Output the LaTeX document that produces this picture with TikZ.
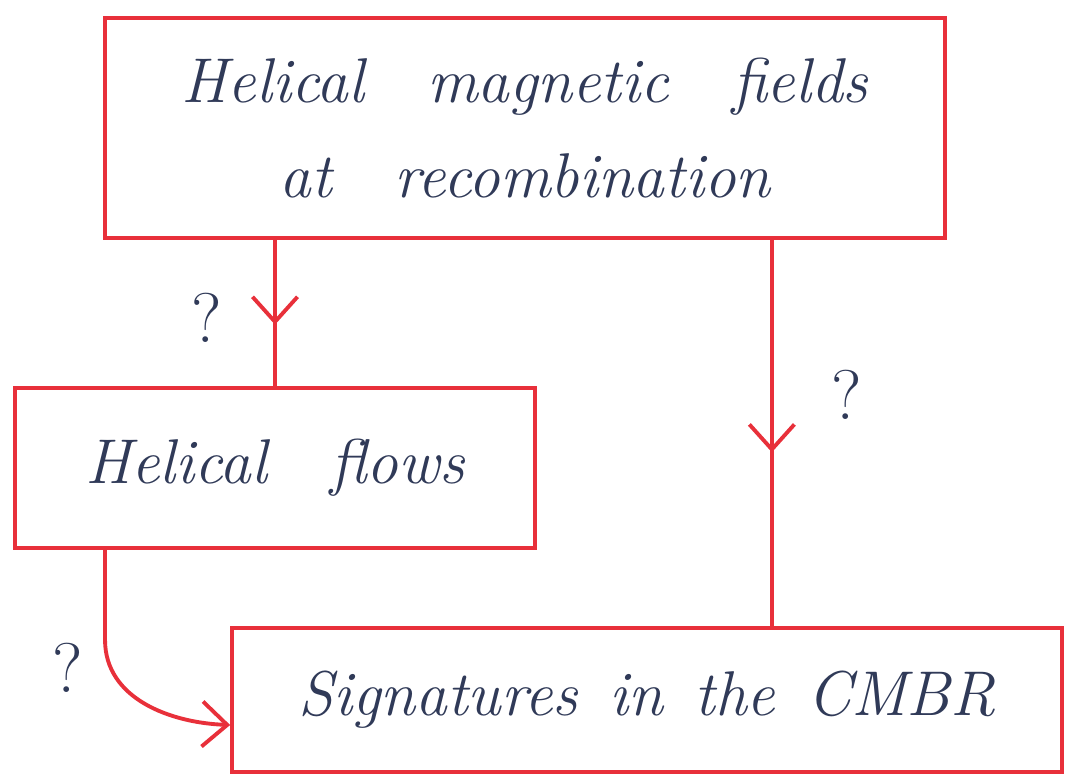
\documentclass[tikz,border=0pt]{standalone}
\usetikzlibrary{positioning}
\usetikzlibrary{arrows.meta,decorations.markings}
\definecolor{ink}{RGB}{232,48,58}
\definecolor{pen}{RGB}{48,58,88}

\begin{document}
\begin{tikzpicture}[x=0.02cm, y=-0.02cm, line width=2.2pt,
	box/.style={draw=ink, rectangle, inner sep=0pt, text=pen, align=center,
		font=\fontsize{36}{54}\selectfont\itshape},
	qm/.style={text=pen, font=\fontsize{40}{40}\selectfont},
	midarrow/.style={postaction={decorate}, decoration={markings,
		mark=at position #1 with {\arrow{Straight Barb[length=5mm,width=9mm]}}}}]
		\useasboundingbox (0,0) rectangle (1076,778);
		\node (top) [box, minimum width=16.8cm, minimum height=4.4cm] at (525,128)
			{Helical\quad magnetic\quad fields\\at\quad recombination};
		\node (flows) [box, minimum width=10.4cm, minimum height=3.2cm] at (275,468)
			{Helical\quad flows};
		\node (cmbr) [box, minimum width=16.6cm, minimum height=2.88cm] at (647,700)
			{Signatures\enspace in\enspace the\enspace CMBR};
		\node (q1) [qm] at (207,318) {?};
		\node (q2) [qm] at (847,395) {?};
		\node (q3) [qm] at (68,668) {?};
		\draw[ink, midarrow=0.58] (flows.north |- top.south) -- (flows.north);
		\draw[ink, midarrow=0.55] ([xshift=-3.5cm]top.south east) -- ([xshift=-3.5cm]top.south east |- cmbr.north);
		\draw[ink, -{Straight Barb[length=5mm,width=9mm]}] ([xshift=-3.4cm]flows.south) -- ++(0,90)
			to[out=-90, in=178] ([yshift=-0.5cm]cmbr.west);
\end{tikzpicture}
\end{document}
